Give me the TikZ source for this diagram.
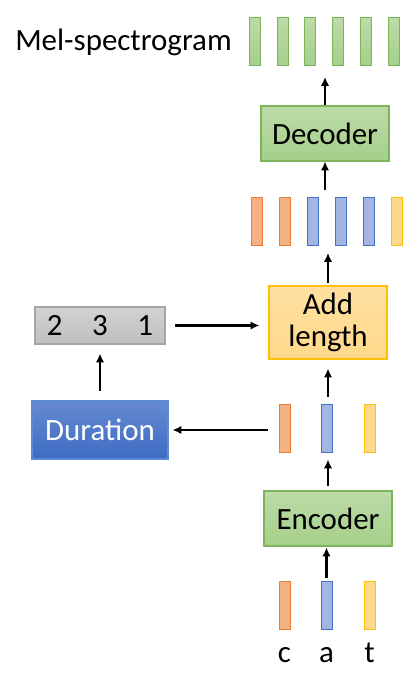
\documentclass[tikz,border=0pt]{standalone}
\usepackage{fontspec}
\setmainfont{Carlito}
\usepackage{tikz}
\usetikzlibrary{arrows.meta,positioning}
\definecolor{cGreen}{HTML}{A5CF8A}
\definecolor{cGreenLine}{HTML}{7DB35A}
\definecolor{cOrange}{HTML}{F4B183}
\definecolor{cOrangeLine}{HTML}{ED7D31}
\definecolor{cBlue}{HTML}{A3B5E0}
\definecolor{cBlueLine}{HTML}{4472C4}
\definecolor{cYellow}{HTML}{FFD98A}
\definecolor{cYellowLine}{HTML}{FFC000}
\definecolor{cGray}{HTML}{BFBFBF}
\definecolor{cGrayLine}{HTML}{A6A6A6}
\definecolor{cDur}{HTML}{3E6CC4}
\definecolor{cDurLine}{HTML}{5B8BD6}
\newcommand{\bigtxt}{\fontsize{22}{25}\selectfont}
\tikzset{
  arrow/.style={-{Latex[length=2.2mm,width=2.1mm]}, line width=1.6pt, black},
  blk/.style={draw, line width=0.8pt, inner sep=0pt, font=\bigtxt, align=center},
  codec/.style={blk, draw=cGreenLine, top color=cGreen!75, bottom color=cGreen, minimum width=32mm, minimum height=13.75mm},
  bar/.style={draw, line width=0.7pt, inner sep=0pt, minimum width=2.75mm, minimum height=12mm},
  melbar/.style={bar, draw=cGreenLine, top color=cGreen!75, bottom color=cGreen},
  obar/.style={bar, fill=cOrange, draw=cOrangeLine},
  bbar/.style={bar, fill=cBlue, draw=cBlueLine},
  ybar/.style={bar, fill=cYellow, draw=cYellowLine},
}

\begin{document}
\begin{tikzpicture}[x=0.25mm, y=-0.25mm]
        \useasboundingbox (0,0) rectangle (416,675);
        % output frames
        \node[font=\bigtxt, anchor=base west, inner sep=0pt] (mel) at (15,50) {Mel-spectrogram};
        \foreach \i/\x in {1/255,2/282.5,3/310,4/338,5/366,6/393.5}
          \node[melbar] (melbar-\i) at (\x,41) {};
        \node[codec] (dec) at (325,133.5) {Decoder};
        % expanded frames
        \foreach \i/\x/\s in {1/257/obar,2/285/obar,3/312.5/bbar,4/340.5/bbar,5/368.5/bbar,6/396.5/ybar}
          \node[\s] (mid-\i) at (\x,221) {};
        \node[blk, draw=cYellowLine, top color=cYellow!80, bottom color=cYellow, minimum width=29.5mm, minimum height=18.25mm] (add) at (328,322.5) {Add\\[-2pt]length};
        \node[blk, draw=cGrayLine, top color=cGray!70, bottom color=cGray, minimum width=32.5mm, minimum height=9.25mm] (lens) at (100,325.5) {2\hspace{21pt}3\hspace{21pt}1};
        \node[blk, draw=cDurLine, top color=cDur!80, bottom color=cDur, text=white, minimum width=34mm, minimum height=14.5mm] (dur) at (100,430) {Duration};
        % encoder output and input
        \foreach \i/\x/\s in {1/284.5/obar,2/326.5/bbar,3/369.5/ybar}
          \node[\s] (hid-\i) at (\x,428) {};
        \node[codec] (enc) at (328,518.5) {Encoder};
        \foreach \i/\x/\s/\c in {1/284.5/obar/c,2/326.5/bbar/a,3/369.5/ybar/t}{
          \node[\s] (in-\i) at (\x,605.5) {};
          \node[font=\bigtxt, anchor=base, inner sep=0pt] (lbl-\i) at (\x,662) {\c};
        }
        \coordinate (melfoot) at (325,77);
        \coordinate (midtop) at (325,190);
        \coordinate (midfoot) at (328,253);
        % connectors
        \draw[arrow] (dec.north) -- (melfoot);
        \draw[arrow] (midtop) -- (dec.south);
        \draw[arrow, shorten <=0.5mm] (add.north) -- (midfoot);
        \draw[arrow, shorten <=2.25mm, shorten >=2.25mm] (lens.east) -- (add.west |- lens.east);
        \draw[arrow, shorten <=2.25mm, shorten >=2.25mm] (dur.north) -- (lens.south);
        \draw[arrow, shorten <=2.75mm, shorten >=1mm] (hid-1.west |- dur.east) -- (dur.east);
        \draw[arrow, shorten <=1.75mm, shorten >=2.25mm] (hid-2.north -| add.south) -- (add.south);
        \draw[arrow, shorten <=1mm, shorten >=1.75mm] (enc.north) -- (enc.north |- hid-2.south);
        \draw[arrow, shorten <=0.75mm, shorten >=0.25mm] (in-2.north) -- (in-2.north |- enc.south);
      \end{tikzpicture}
\end{document}
